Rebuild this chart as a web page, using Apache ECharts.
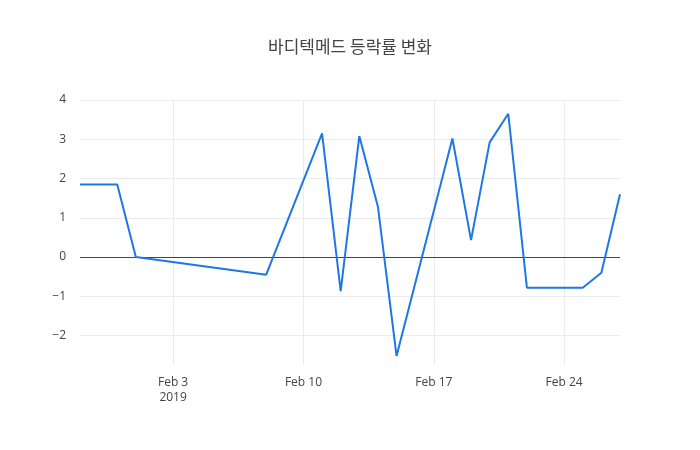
<!DOCTYPE html>
<html><head><meta charset="utf-8">
<script src="https://cdn.jsdelivr.net/npm/echarts@6/dist/echarts.min.js"></script>
<style>html,body{margin:0;padding:0;background:#fff}#c{width:700px;height:450px}</style>
</head><body><div id="c"></div>
<script>
const dates = ['2019-01-29','2019-01-31','2019-02-01','2019-02-08','2019-02-11','2019-02-12','2019-02-13','2019-02-14','2019-02-15','2019-02-18','2019-02-19','2019-02-20','2019-02-21','2019-02-22','2019-02-25','2019-02-26','2019-02-27'];
const values = [1.85,1.85,0.0,-0.45,3.15,-0.87,3.08,1.28,-2.52,3.02,0.43,2.92,3.65,-0.78,-0.78,-0.40,1.60];
const xTickDates = ['2019-02-03','2019-02-10','2019-02-17','2019-02-24'];
const xTickLabels = ['Feb 3\n2019','Feb 10','Feb 17','Feb 24'];
const yTicks = [-2,-1,1,2,3,4];
const title = '바디텍메드 등락률 변화';

const day = 86400000;
const base = Date.UTC(2019,1,3);
const toDay = s => { const [y,m,d] = s.split('-').map(Number); return (Date.UTC(y,m-1,d)-base)/day; };
const xs = dates.map(toDay);
const xt = xTickDates.map(toDay);
const fmtNum = v => String(v).replace('-', '\u2212');
const grid = {type:'solid', color:'#ebebeb', width:1};
const chart = echarts.init(document.getElementById('c'));
chart.setOption({
  animation:false,
  title:{text:title,left:'center',top:33,textStyle:{fontFamily:'Noto Sans CJK KR',fontSize:17,fontWeight:'normal',color:'#444'}},
  grid:{left:80,right:80,top:100,bottom:85},
  xAxis:{type:'value',min:toDay(dates[0]),max:toDay(dates[dates.length-1]),
    axisLine:{show:false},splitLine:{show:false},
    axisTick:{show:false},
    axisLabel:{customValues:xt,color:'#444',fontSize:12,fontFamily:'Open Sans',lineHeight:15,margin:10,
      formatter:v=>{const i=xt.indexOf(v);return i>=0?xTickLabels[i]:'';}}},
  yAxis:{type:'value',min:-2.75,max:4,
    axisLine:{show:false},splitLine:{show:false},axisTick:{show:false},
    axisLabel:{customValues:[-2,-1,0,1,2,3,4],color:'#444',fontSize:12,fontFamily:'Open Sans',margin:14,formatter:fmtNum}},
  series:[{type:'line',data:xs.map((x,i)=>[x,values[i]]),symbol:'none',
    lineStyle:{color:'#1f77e4',width:2},z:5,
    markLine:{silent:true,symbol:'none',label:{show:false},
      data:[...xt.map(x=>({xAxis:x,lineStyle:grid})),
            ...yTicks.map(y=>({yAxis:y,lineStyle:grid})),
            {yAxis:0,lineStyle:{type:'solid',color:'#444',width:1}}]}}]
});
</script></body></html>
